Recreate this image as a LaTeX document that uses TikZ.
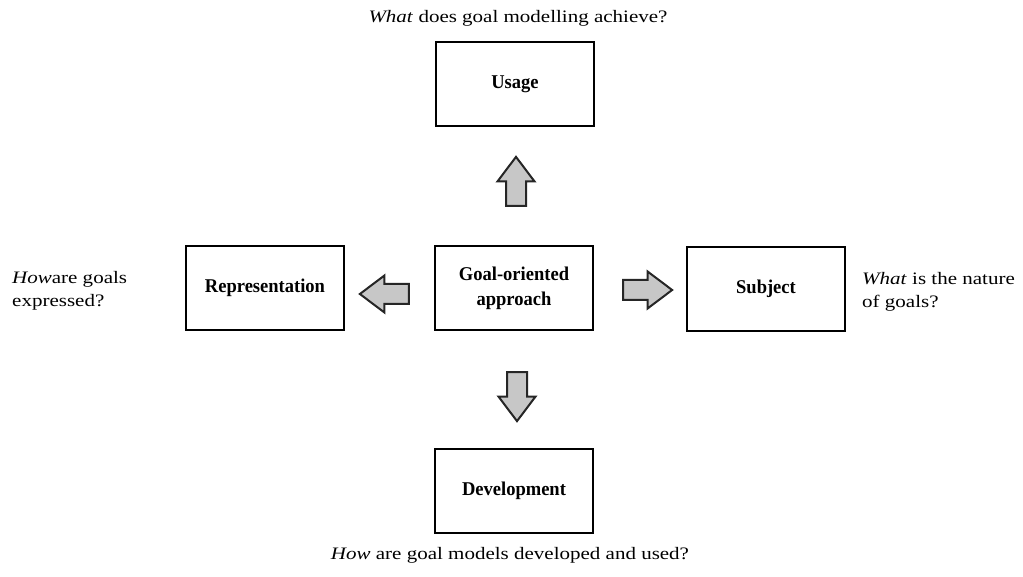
\documentclass[tikz,border=0pt]{standalone}
\usepackage{fontspec}
\setmainfont{Liberation Serif}
\newfontfamily\labelfont[FakeStretch=0.95]{Liberation Serif}
\newfontfamily\notefont[FakeStretch=1.2]{Liberation Serif}
\usetikzlibrary{shapes.arrows}
\begin{document}
\begin{tikzpicture}[x=1pt,y=-1pt,
  box/.style={draw, line width=1.3pt, minimum width=158pt, minimum height=84pt,
    inner sep=0pt, align=center,
    font=\labelfont\bfseries\fontsize{19.5}{25}\selectfont},
  note/.style={inner sep=0pt, font=\notefont\fontsize{17.5}{23}\selectfont},
  fat/.style={single arrow, draw=black!85, line width=2pt, fill=black!22,
    minimum height=49pt, minimum width=35pt, inner sep=9pt,
    single arrow head extend=8.5pt, single arrow tip angle=74,
    single arrow head indent=0pt}]

% page
\fill[white] (0,0) rectangle (1023,577);
\useasboundingbox (0,0) rectangle (1023,577);

% the five boxes
\node[box] (goal)  at (514,288) {Goal-oriented\\approach};
\node[box] (usage) at (515,84)  {Usage};
\node[box] (repr)  at (265,288) {Representation};
\node[box] (subj)  at (766,289) {Subject};
\node[box] (dev)   at (514,491) {Development};

% block arrows pointing outward from the centre box
\node[fat, rotate=90]  (aup)    at (516,188) {};
\node[fat, rotate=-90] (adown)  at (517,390) {};
\node[fat, rotate=180, minimum width=32pt] (aleft) at (391,294) {};
\node[fat] (aright) at (641,290) {};

% guiding questions (base anchor sits on the last line)
\node[note, anchor=base] (qtop) at (518,23) {\textit{What} does goal modelling achieve?};
\node[note, anchor=base] (qbot) at (510,559) {\textit{How} are goal models developed and used?};
\node[note, align=left, anchor=base west] (qleft) at (12,307) {\textit{How}are goals\\expressed?};
\node[note, align=left, anchor=base west] (qright) at (862,308) {\textit{What} is the nature\\of goals?};
\end{tikzpicture}
\end{document}
